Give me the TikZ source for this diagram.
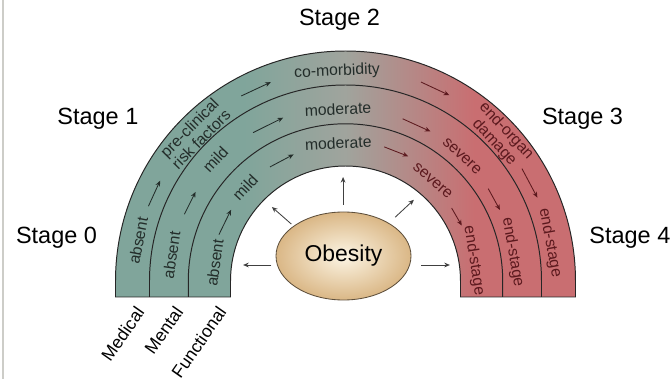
\documentclass[tikz,border=0pt]{standalone}
\usepackage{fontspec}
\setmainfont{Liberation Sans}
\usepackage{tikz}
\usetikzlibrary{shapes.geometric, arrows.meta}
\definecolor{archteal}{RGB}{128, 165, 155}
\definecolor{archgray}{RGB}{160, 164, 157}
\definecolor{archred}{RGB}{201, 110, 113}
\definecolor{textdark}{RGB}{35, 45, 42}
\definecolor{textred}{RGB}{92, 25, 30}
\definecolor{obesityin}{RGB}{252, 245, 228}
\definecolor{obesityout}{RGB}{218, 183, 134}
\definecolor{obesityline}{RGB}{95, 80, 60}
\definecolor{framegray}{RGB}{205, 205, 200}
\pgfdeclarehorizontalshading{archshade}{100bp}{color(0bp)=(archteal); color(39bp)=(archteal); color(50bp)=(archgray); color(64bp)=(archred); color(100bp)=(archred)}

\begin{document}
\begin{tikzpicture}[
    stage_label/.style={font=\fontsize{16.7}{18}\selectfont, inner sep=0pt},
    band_text/.style={font=\fontsize{11.2}{11.6}\selectfont, text=textdark, inner sep=0pt, align=center},
    band_red/.style={band_text, text=textred},
    domain_label/.style={font=\fontsize{12.5}{14}\selectfont, rotate=55, anchor=north east, inner sep=0pt},
    band_line/.style={line width=0.7pt, black!85},
    arrow/.style={-{Stealth[length=4pt, width=3.4pt]}, line width=0.6pt, textdark},
    arrow_red/.style={arrow, textred},
    arrow_gray/.style={arrow, black!75}
]
    \useasboundingbox (-8.6375,-2.45) rectangle (8.1375,7.025);
    \draw[framegray, line width=1pt] (-8.56,-2.45) -- (-8.56,7.025);

    % Arch and its bands
    \shadedraw[shading=archshade, band_line] (-5.75,-0.4) -- (-5.75,0) arc[start angle=180, end angle=0, radius=5.75]
        -- (5.75,-0.4) -- (2.875,-0.4) -- (2.875,0) arc[start angle=0, end angle=180, radius=2.875] -- (-2.875,-0.4) -- cycle;
    \draw[band_line] (-4.9,-0.4) -- (-4.9,0) arc[start angle=180, end angle=0, radius=4.9] -- (4.9,-0.4);
    \draw[band_line] (-3.93,-0.4) -- (-3.93,0) arc[start angle=180, end angle=0, radius=3.93] -- (3.93,-0.4);

    % Stage labels
    \node[stage_label] (stage0) at (-7.225,1.075) {Stage 0};
    \node[stage_label] (stage1) at (-6.19,4.06) {Stage 1};
    \node[stage_label] (stage2) at (-0.15,6.525) {Stage 2};
    \node[stage_label] (stage3) at (5.925,4.06) {Stage 3};
    \node[stage_label] (stage4) at (7.11,1.075) {Stage 4};

    % Medical band
    \node[band_text, rotate=79] (medAbsent) at (169:5.28) {absent};
    \node[band_text, rotate=45.5] (medRisk) at (135.5:5.27) {pre-clinical\\risk factors};
    \node[band_text, rotate=2.3] (medComorb) at (92.3:5.24) {co-morbidity};
    \node[band_red, rotate=-47] (medOrgan) at (43:5.29) {end-organ\\damage};
    \node[band_red, rotate=-79.4] (medEnd) at (10.6:5.2) {end-stage};

    % Mental band
    \node[band_text, rotate=81.5] (menAbsent) at (171.5:4.4) {absent};
    \node[band_text, rotate=47] (menMild) at (137:4.45) {mild};
    \node[band_text, rotate=2.5] (menModerate) at (92.5:4.3) {moderate};
    \node[band_red, rotate=-43] (menSevere) at (47:4.27) {severe};
    \node[band_red, rotate=-80.3] (menEnd) at (9.7:4.24) {end-stage};

    % Functional band
    \node[band_text, rotate=82] (funAbsent) at (172:3.3) {absent};
    \node[band_text, rotate=47] (funMild) at (137:3.43) {mild};
    \node[band_text, rotate=3] (funModerate) at (93:3.45) {moderate};
    \node[band_red, rotate=-41] (funSevere) at (49:3.32) {severe};
    \node[band_red, rotate=-81] (funEnd) at (9:3.25) {end-stage};

    % Progression arrows
    \coordinate (m1a) at (159.2:5.27); \coordinate (m1b) at (151.6:5.27);
    \coordinate (m2a) at (119.4:5.31); \coordinate (m2b) at (110.6:5.31);
    \coordinate (m3a) at (69.2:5.32);  \coordinate (m3b) at (60.8:5.32);
    \coordinate (m4a) at (32.5:5.23);  \coordinate (m4b) at (23.5:5.23);
    \coordinate (n1a) at (157.5:4.36); \coordinate (n1b) at (149.3:4.36);
    \coordinate (n2a) at (121.9:4.37); \coordinate (n2b) at (110.9:4.37);
    \coordinate (n3a) at (70.6:4.3);   \coordinate (n3b) at (60.4:4.3);
    \coordinate (n4a) at (32.9:4.25);  \coordinate (n4b) at (24.7:4.25);
    \coordinate (f1a) at (159.9:3.37); \coordinate (f1b) at (148.1:3.37);
    \coordinate (f2a) at (123.5:3.42); \coordinate (f2b) at (112.3:3.42);
    \coordinate (f3a) at (73.9:3.49);  \coordinate (f3b) at (63.3:3.49);
    \coordinate (f4a) at (34.5:3.22);  \coordinate (f4b) at (25.5:3.22);
    \draw[arrow] (m1a) -- (m1b);
    \draw[arrow] (m2a) -- (m2b);
    \draw[arrow_red] (m3a) -- (m3b);
    \draw[arrow_red] (m4a) -- (m4b);
    \draw[arrow] (n1a) -- (n1b);
    \draw[arrow] (n2a) -- (n2b);
    \draw[arrow_red] (n3a) -- (n3b);
    \draw[arrow_red] (n4a) -- (n4b);
    \draw[arrow] (f1a) -- (f1b);
    \draw[arrow] (f2a) -- (f2b);
    \draw[arrow_red] (f3a) -- (f3b);
    \draw[arrow_red] (f4a) -- (f4b);

    % Obesity
    \node[ellipse, draw=obesityline, line width=0.6pt, inner color=obesityin, outer color=obesityout,
        minimum width=3.375cm, minimum height=2.2cm, font=\fontsize{16.3}{18}\selectfont] (obesity) at (-0.05,0.625) {Obesity};
    \coordinate (tipW) at (-2.56,0.4);
    \coordinate (tipE) at (2.61,0.4);
    \coordinate (tipN) at (-0.06,2.6);
    \coordinate (tipNW) at (-1.84,1.85);
    \coordinate (tipNE) at (1.71,2.03);
    \draw[arrow_gray, shorten <=3pt] (obesity.west |- tipW) -- (tipW);
    \draw[arrow_gray, shorten <=7pt] (obesity.east |- tipE) -- (tipE);
    \draw[arrow_gray, shorten <=5pt] (obesity.north -| tipN) -- (tipN);
    \draw[arrow_gray, shorten <=2pt] (obesity.149) -- (tipNW);
    \draw[arrow_gray, shorten <=6pt] (obesity.36) -- (tipNE);

    % Domains
    \node[domain_label] (medical) at (-5.27,-0.6) {Medical};
    \node[domain_label] (mental) at (-4.3,-0.6) {Mental};
    \node[domain_label] (functional) at (-3.22,-0.6) {Functional};
\end{tikzpicture}
\end{document}
